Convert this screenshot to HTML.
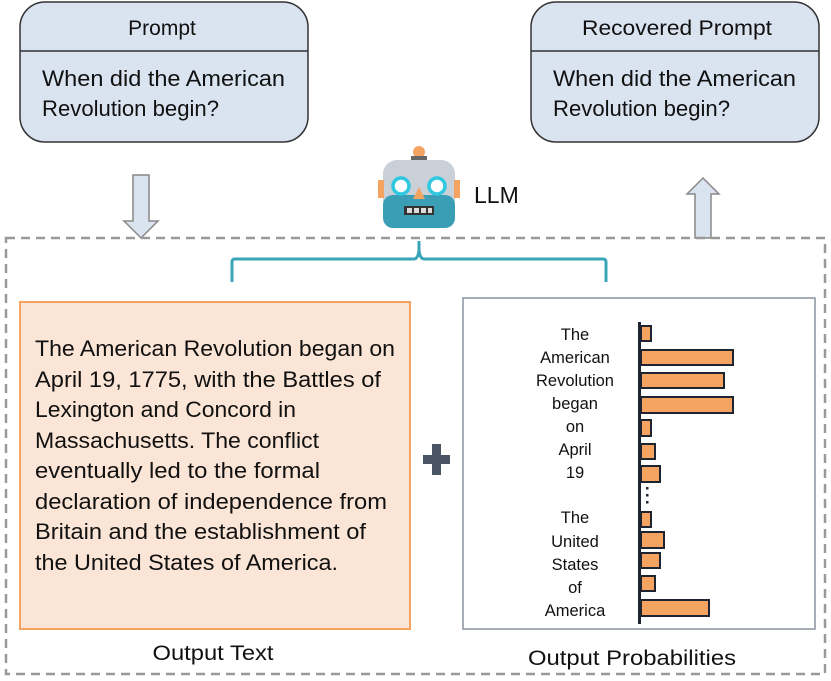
<!DOCTYPE html>
<html><head><meta charset="utf-8"><style>
html,body{margin:0;padding:0;background:#fff;}
svg{display:block;font-family:"Liberation Sans",sans-serif;}
</style></head><body>
<svg width="831" height="681" viewBox="0 0 831 681">
<!-- Prompt box -->
<rect x="20" y="2" width="288" height="140" rx="25" fill="#dae3f0" stroke="#333" stroke-width="1.5"/>
<line x1="20" y1="51" x2="308" y2="51" stroke="#333" stroke-width="1.5"/>
<text x="162" y="35" font-size="21" text-anchor="middle" fill="#111">Prompt</text>
<text x="42" y="86" font-size="22" fill="#111" textLength="243" lengthAdjust="spacingAndGlyphs">When did the American</text>
<text x="42" y="116" font-size="22" fill="#111" textLength="177" lengthAdjust="spacingAndGlyphs">Revolution begin?</text>
<!-- Recovered box -->
<rect x="531" y="2" width="288" height="140" rx="25" fill="#dae3f0" stroke="#333" stroke-width="1.5"/>
<line x1="531" y1="51" x2="819" y2="51" stroke="#333" stroke-width="1.5"/>
<text x="677" y="35" font-size="21" text-anchor="middle" fill="#111" textLength="190" lengthAdjust="spacingAndGlyphs">Recovered Prompt</text>
<text x="553" y="86" font-size="22" fill="#111" textLength="243" lengthAdjust="spacingAndGlyphs">When did the American</text>
<text x="553" y="116" font-size="22" fill="#111" textLength="177" lengthAdjust="spacingAndGlyphs">Revolution begin?</text>
<!-- arrows -->
<polygon points="133,175 149,175 149,221 158,221 141,238 124,221 133,221" fill="#dae3f0" stroke="#888" stroke-width="1.5"/>
<polygon points="695,238 711,238 711,194 719,194 703,178 687,194 695,194" fill="#dae3f0" stroke="#888" stroke-width="1.5"/>
<!-- dashed container -->
<rect x="6" y="238" width="819" height="436" fill="none" stroke="#999" stroke-width="2.5" stroke-dasharray="9,6"/>
<!-- robot -->
<circle cx="419" cy="152" r="6" fill="#f4a460"/>
<rect x="411" y="156" width="16" height="6" fill="#666"/>
<rect x="383" y="160" width="72" height="68" rx="14" fill="#c9d0d8"/>
<rect x="383" y="195" width="72" height="33" rx="10" fill="#3a9fb5"/>
<rect x="378" y="180" width="6" height="18" fill="#f4a460"/>
<rect x="454" y="180" width="6" height="18" fill="#f4a460"/>
<circle cx="401" cy="186" r="8" fill="#fff" stroke="#2ec8e0" stroke-width="3.5"/>
<circle cx="437" cy="186" r="8" fill="#fff" stroke="#2ec8e0" stroke-width="3.5"/>
<polygon points="419,187 413,199 425,199" fill="#f4a460"/>
<rect x="404" y="206" width="30" height="9" fill="#333"/>
<rect x="407" y="208" width="5" height="5" fill="#ddd"/><rect x="414" y="208" width="5" height="5" fill="#ddd"/><rect x="421" y="208" width="5" height="5" fill="#ddd"/><rect x="428" y="208" width="4" height="5" fill="#ddd"/>
<text x="474" y="203" font-size="23" fill="#111">LLM</text>
<!-- brace -->
<path d="M232,282 L232,262 Q232,259 235,259 L414,259 Q418,259 419,250 L419,241 M419,250 Q420,259 424,259 L603,259 Q606,259 606,262 L606,282" fill="none" stroke="#3aa5b8" stroke-width="3"/>
<!-- output text box -->
<rect x="20" y="302" width="390" height="327" fill="#fbe5d6" stroke="#f4a460" stroke-width="2"/>
<g font-size="22" fill="#111">
<text x="35" y="356" textLength="360" lengthAdjust="spacingAndGlyphs">The American Revolution began on</text>
<text x="35" y="387" textLength="346" lengthAdjust="spacingAndGlyphs">April 19, 1775, with the Battles of</text>
<text x="35" y="417" textLength="261" lengthAdjust="spacingAndGlyphs">Lexington and Concord in</text>
<text x="35" y="448" textLength="284" lengthAdjust="spacingAndGlyphs">Massachusetts. The conflict</text>
<text x="35" y="478" textLength="285" lengthAdjust="spacingAndGlyphs">eventually led to the formal</text>
<text x="35" y="509" textLength="352" lengthAdjust="spacingAndGlyphs">declaration of independence from</text>
<text x="35" y="539" textLength="331" lengthAdjust="spacingAndGlyphs">Britain and the establishment of</text>
<text x="35" y="570" textLength="303" lengthAdjust="spacingAndGlyphs">the United States of America.</text>
</g>
<text x="213" y="660" font-size="21" text-anchor="middle" fill="#111" textLength="121" lengthAdjust="spacingAndGlyphs">Output Text</text>
<!-- plus -->
<rect x="423" y="455" width="27" height="9" fill="#4a5563"/>
<rect x="432" y="444" width="9" height="31" fill="#4a5563"/>
<!-- probabilities box -->
<rect x="463" y="298" width="352" height="331" fill="#fff" stroke="#8a94a0" stroke-width="1.5"/>
<g font-size="16.5" fill="#111" text-anchor="middle">
<text x="575" y="340">The</text>
<text x="575" y="363">American</text>
<text x="575" y="386">Revolution</text>
<text x="575" y="409">began</text>
<text x="575" y="432">on</text>
<text x="575" y="455">April</text>
<text x="575" y="478">19</text>
<text x="575" y="523">The</text>
<text x="575" y="547">United</text>
<text x="575" y="570">States</text>
<text x="575" y="593">of</text>
<text x="575" y="616">America</text>
</g>
<rect x="638" y="322" width="3" height="302" fill="#1e2530"/>
<g fill="#f4a460" stroke="#1e2530" stroke-width="2">
<rect x="641" y="326" width="10" height="15"/>
<rect x="641" y="350" width="92" height="15"/>
<rect x="641" y="373" width="83" height="15"/>
<rect x="641" y="397" width="92" height="16"/>
<rect x="641" y="420" width="10" height="16"/>
<rect x="641" y="444" width="14" height="15"/>
<rect x="641" y="466" width="19" height="16"/>
<rect x="641" y="512" width="10" height="15"/>
<rect x="641" y="532" width="23" height="16"/>
<rect x="641" y="553" width="19" height="15"/>
<rect x="641" y="576" width="14" height="15"/>
<rect x="641" y="600" width="68" height="16"/>
</g>
<g fill="#1e2530"><rect x="646" y="487" width="2.5" height="2.5"/><rect x="646" y="494" width="2.5" height="2.5"/><rect x="646" y="501" width="2.5" height="2.5"/></g>
<text x="632" y="665" font-size="21" text-anchor="middle" fill="#111" textLength="208" lengthAdjust="spacingAndGlyphs">Output Probabilities</text>
</svg>
</body></html>
